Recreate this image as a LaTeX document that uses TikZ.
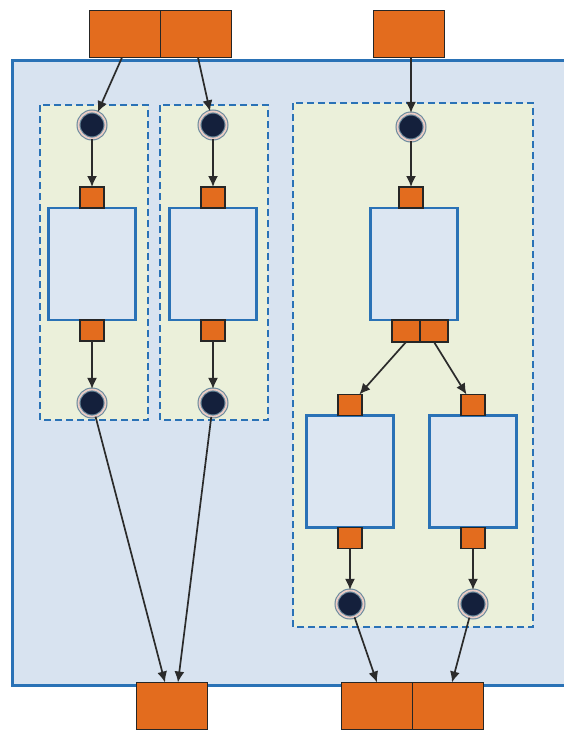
\documentclass[tikz,border=0pt]{standalone}
\usepackage{tikz}
\usetikzlibrary{positioning, arrows.meta}
\usepackage{xcolor}

\definecolor{frameblue}{HTML}{2A72B6}
\definecolor{framefill}{HTML}{D8E3F0}
\definecolor{groupfill}{HTML}{EBF0DA}
\definecolor{blockfill}{HTML}{DCE6F2}
\definecolor{portorange}{HTML}{E36C1E}
\definecolor{tokennavy}{HTML}{14203C}
\definecolor{ringpink}{HTML}{EBCDC6}
\definecolor{ringgray}{HTML}{6A8A9E}
\definecolor{wirecol}{HTML}{2B2B2B}

\begin{document}
\begin{tikzpicture}[
        x=1pt, y=-1pt,
        >={Latex[length=11pt,width=10pt]},
        frame/.style={draw=frameblue, fill=framefill, line width=3pt},
        group/.style={draw=frameblue, fill=groupfill, line width=1.8pt, dash pattern=on 7pt off 4pt},
        block/.style={
            draw=frameblue,
            fill=blockfill,
            line width=2.2pt,
            minimum width=87pt,
            minimum height=112pt,
            inner sep=0pt, outer sep=0pt
        },
        port/.style={
            draw=black!85,
            fill=portorange,
            line width=1.2pt,
            minimum width=24pt,
            minimum height=21pt,
            inner sep=0pt, outer sep=0pt
        },
        bigport/.style={port, minimum width=71pt, minimum height=47pt},
        dport/.style={port, minimum width=28pt, minimum height=22pt},
        token/.style={
            circle,
            fill=tokennavy,
            draw=ringgray,
            double=ringpink,
            double distance=1.8pt,
            line width=1.1pt,
            minimum size=27pt,
            inner sep=0pt
        },
        wire/.style={->, draw=wirecol, line width=1.7pt}
    ]
        \useasboundingbox (0,0) rectangle (563,731);

        % Outer frame and dashed groups
        \draw[frame] (12,60) rectangle (585,685);
        \draw[group] (40,105) rectangle (148,420);
        \draw[group] (160,105) rectangle (268,420);
        \draw[group] (293,103) rectangle (533,627);

        % Input and output ports
        \node[bigport] (inL) at (125,34) {};
        \node[bigport, right=0pt of inL] (inR) {};
        \node[bigport] (inC) at (409,34) {};
        \node[bigport] (outL) at (172,706) {};
        \node[bigport] (outA) at (377,706) {};
        \node[bigport, right=0pt of outA] (outB) {};

        % Left column
        \node[token] (c1a) at (92,125) {};
        \node[block] (b1) at (92,264) {};
        \node[port, above=0pt of b1] (p1a) {};
        \node[port, below=0pt of b1] (p1b) {};
        \node[token] (c1b) at (92,403) {};

        % Second column
        \node[token] (c2a) at (213,125) {};
        \node[block] (b2) at (213,264) {};
        \node[port, above=0pt of b2] (p2a) {};
        \node[port, below=0pt of b2] (p2b) {};
        \node[token] (c2b) at (213,403) {};

        % Right group
        \node[token] (c3a) at (411,127) {};
        \node[block] (b3) at (414,264) {};
        \node[port] (p3a) at (411,197.5) {};
        \node[dport, anchor=north east] (d1) at ([xshift=6pt]b3.south) {};
        \node[dport, right=0pt of d1] (d2) {};

        \node[block] (b4) at (350,471.5) {};
        \node[port, above=0pt of b4] (p4a) {};
        \node[port, below=0pt of b4] (p4b) {};
        \node[token] (c4) at (350,604) {};

        \node[block] (b5) at (473,471.5) {};
        \node[port, above=0pt of b5] (p5a) {};
        \node[port, below=0pt of b5] (p5b) {};
        \node[token] (c5) at (473,604) {};

        % Connections
        \draw[wire] ([xshift=-3pt]inL.south) -- (c1a);
        \draw[wire] ([xshift=2pt]inR.south) -- (c2a);
        \draw[wire] ([xshift=2pt]inC.south) -- (c3a);
        \draw[wire] (c1a) -- (p1a);
        \draw[wire] (p1b) -- (c1b);
        \draw[wire] (c2a) -- (p2a);
        \draw[wire] (p2b) -- (c2b);
        \draw[wire] (c3a) -- (p3a);
        \draw[wire] (d1.south) -- (p4a);
        \draw[wire] (d2.south) -- (p5a);
        \draw[wire] (p4b) -- (c4);
        \draw[wire] (p5b) -- (c5);
        \draw[wire] (c1b) -- ([xshift=-7pt]outL.north);
        \draw[wire] (c2b) -- ([xshift=6pt]outL.north);
        \draw[wire] (c4) -- (outA.north);
        \draw[wire] (c5) -- ([xshift=4pt]outB.north);
    \end{tikzpicture}
\end{document}
